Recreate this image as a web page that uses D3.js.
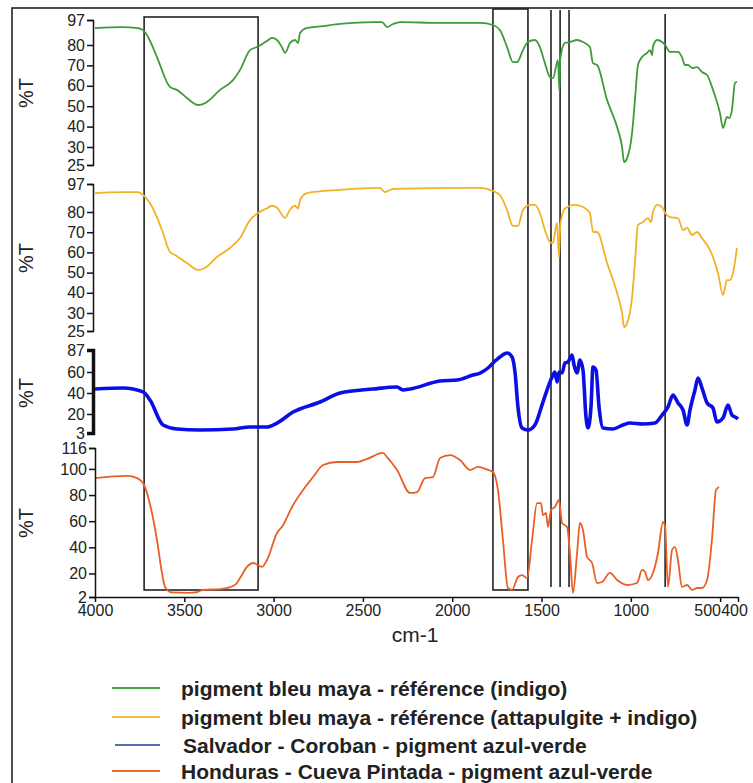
<!DOCTYPE html>
<html>
<head>
<meta charset="utf-8">
<script src="https://cdn.jsdelivr.net/npm/d3@7"></script>
<style>
body{margin:0;background:#fff;}
svg text{font-family:"Liberation Sans",Arial,sans-serif;fill:#222;}
</style>
</head>
<body>
<div id="chart"></div>
<script>
// spectra: [wavenumber cm-1, %T]
let greenData=[[4000,91.5],[3850,92.2],[3760,91.5],[3731,90.1],[3700,84.8],[3653,74.1],[3580,59.4],[3541,58],[3485,54],[3423,50.6],[3373,52.1],[3300,58],[3227,62.8],[3188,67.8],[3132,77.5],[3093,79],[3040,82.5],[3009,84.8],[2981,83.4],[2950,78.3],[2936,76.1],[2908,81.4],[2880,83.4],[2863,81.4],[2852,88.2],[2813,91.6],[2723,92.9],[2628,94.3],[2444,95.6],[2393,95.6],[2365,92.2],[2331,94.3],[2292,95.6],[2068,95],[1884,95],[1844,95],[1772,93.6],[1733,90.2],[1693,79],[1660,71.6],[1637,71.6],[1604,77.5],[1576,82],[1537,83.4],[1509,79],[1481,71.1],[1453,64.3],[1436,63.8],[1408,72.6],[1400,57.5],[1395,73.3],[1369,81.4],[1341,82],[1301,83.4],[1268,82],[1229,79],[1212,71.1],[1189,70.2],[1133,53],[1077,39.8],[1049,30],[1038,25.8],[1021,26.9],[993,36.9],[977,53],[960,70.2],[937,74.1],[909,76.1],[893,77.5],[881,75.1],[876,79.4],[853,83.4],[825,82],[808,80],[781,76.6],[736,76.6],[714,74.1],[697,70.2],[680,70.2],[657,68.7],[629,69.2],[602,66.8],[573,65.3],[540,58],[501,46.7],[484,39.3],[462,44.7],[450,44.2],[434,48.1],[417,61.4],[406,61.9]];

let orangeData=[[4000,91.5],[3850,92.1],[3760,92.1],[3731,90.3],[3680,83],[3625,71.1],[3580,60.2],[3552,58.7],[3485,54.8],[3423,51.3],[3384,52.3],[3317,57.7],[3244,62.2],[3188,67.1],[3132,76],[3093,79.2],[3040,82.1],[3009,83.8],[2981,82.6],[2936,77.1],[2908,81.5],[2880,83.8],[2863,82.1],[2852,87.3],[2813,91.5],[2628,93.4],[2405,94.6],[2377,92.1],[2331,94],[1884,94.6],[1844,94.6],[1772,92.8],[1733,90.3],[1693,81.2],[1660,73.1],[1632,73.1],[1604,81.2],[1565,84.3],[1537,84.3],[1509,79.5],[1481,71.1],[1453,65.1],[1436,64.7],[1413,74.6],[1402,57.7],[1395,73.6],[1369,82.1],[1313,84.3],[1268,83],[1229,79.5],[1212,70.1],[1189,70.1],[1133,54.8],[1077,39.9],[1049,30],[1038,26.1],[1021,27.2],[993,37.9],[977,54.8],[960,73.6],[932,75],[904,77],[887,75],[876,80],[853,84.3],[825,83],[808,79.5],[781,77.5],[736,77],[708,71.1],[685,72.1],[657,68.6],[629,70.1],[602,67.1],[557,61.2],[512,49.8],[484,38.9],[462,46.3],[445,46.3],[428,49.8],[406,62.2]];

let blueData=[[4000,43.8],[3843,44.8],[3731,41],[3692,33.3],[3619,10.2],[3541,6.6],[3412,5.7],[3227,6.6],[3132,8.4],[3087,8.4],[3037,8.4],[2981,11.9],[2891,21.9],[2740,31.4],[2628,40],[2444,43.8],[2309,45.7],[2276,42.9],[2236,43.8],[2068,51.4],[1973,52.4],[1884,57.1],[1844,59],[1800,64.9],[1772,71],[1733,78.4],[1693,83.3],[1665,78.4],[1648,59],[1632,26.7],[1609,7.5],[1576,5.7],[1537,10.2],[1492,31.4],[1441,55.2],[1425,60],[1413,50.5],[1402,60],[1385,59],[1369,71],[1352,72.3],[1329,80.9],[1318,68.6],[1301,59],[1285,74.7],[1268,62.5],[1251,17.3],[1240,7.5],[1223,26.7],[1212,66.1],[1195,62.5],[1178,26.7],[1156,7.5],[1100,6.6],[1044,10.2],[1005,11.9],[932,11],[865,11.9],[825,19.1],[792,26.7],[764,38.1],[736,30.5],[708,23.8],[685,10.2],[669,23.8],[641,42.9],[624,54.3],[602,44.8],[573,30.5],[540,25.7],[518,12.8],[484,16.4],[456,28.6],[434,19.1],[406,16.4],[400,15.5]];

let redData=[[4000,93],[3821,94.6],[3765,93],[3731,89.2],[3681,66.3],[3653,45.6],[3625,20.4],[3608,9.7],[3569,5.5],[3480,5.2],[3429,5.8],[3395,7.5],[3300,8],[3244,9.5],[3210,12],[3188,16.5],[3149,25],[3115,28],[3065,25],[3037,30.3],[2981,51],[2947,57],[2897,70.9],[2835,83.9],[2779,93.8],[2723,103],[2645,105.3],[2533,105.3],[2477,107.6],[2388,112.2],[2365,109.1],[2309,99.2],[2236,81.6],[2197,82.3],[2152,93],[2108,93.8],[2068,108.3],[2012,110.6],[1956,106.8],[1900,99.2],[1856,101.5],[1800,99.2],[1772,97.6],[1744,83.9],[1716,45.6],[1688,8.9],[1665,7.4],[1632,17.3],[1609,18.8],[1581,16.5],[1553,45.6],[1525,73.9],[1503,73.9],[1492,64.7],[1475,66.3],[1464,55.6],[1447,68.6],[1425,70.9],[1402,76.2],[1385,58.6],[1357,55.6],[1341,35.7],[1324,5.1],[1301,35.7],[1285,58.6],[1268,53.3],[1245,32.6],[1217,28],[1189,12.7],[1161,13.5],[1117,20.4],[1077,15],[1021,11.2],[965,12.7],[937,22.7],[920,21.1],[904,15],[876,20.4],[848,35.7],[820,59.4],[808,55.6],[792,9.7],[769,38],[753,40.3],[736,30.3],[714,9.7],[685,11.2],[657,7.4],[629,8.9],[602,8.9],[573,15],[546,45.6],[523,83.9],[506,86.2]];

let xTicks=[4000,3500,3000,2500,2000,1500,1000,500,400];
let ticks1=[97,80,70,60,50,40,30,25];
let ticks2=[97,80,70,60,50,40,30,25];
let ticks3=[87,60,40,20,3];
let ticks4=[116,100,80,60,40,20,2];

// highlighted regions and marker lines (cm-1)
let boxes=[[3725,3087],[1772,1576]];
let markLines=[1447,1396,1346,808];

let legendNames=["pigment bleu maya - référence (indigo)","pigment bleu maya - référence (attapulgite + indigo)","Salvador - Coroban - pigment azul-verde","Honduras - Cueva Pintada - pigment azul-verde"];
let legendColors=["#4ea64a","#f7bd45","#4a72b0","#ec6a2e"];

let width=753, height=783;

let svg=d3.select("#chart").append("svg").attr("width",width).attr("height",height);

// outer frame
svg.append("rect").attr("x",12).attr("y",8).attr("width",800).attr("height",850)
  .attr("fill","none").attr("stroke","#222").attr("stroke-width",1.6);

let x=d3.scaleLinear().domain([4000,400]).range([95,738]);

// the original y axes are not evenly spaced, so use polylinear scales
let panels=[
  {data:greenData, domain:[25,30,80,97], range:[165,147,45,20], ticks:ticks1, color:"#3f9a3c", w:1.8, ax:93, lab:93},
  {data:orangeData, domain:[25,30,80,97], range:[331,313,212,184], ticks:ticks2, color:"#f3b126", w:1.8, ax:93, lab:258},
  {data:blueData, domain:[3,20,60,87], range:[433,414,372,350], ticks:ticks3, color:"#0a10e4", w:3.6, ax:93, lab:393},
  {data:redData, domain:[2,116], range:[597,448], ticks:ticks4, color:"#e95f26", w:1.8, ax:95, lab:523}
];

// boxes and lines behind curves
let gAnn=svg.append("g").attr("fill","none").attr("stroke","#222").attr("stroke-width",1.6);
gAnn.append("rect").attr("x",x(boxes[0][0])).attr("y",17)
  .attr("width",x(boxes[0][1])-x(boxes[0][0])).attr("height",590-17);
gAnn.append("rect").attr("x",x(boxes[1][0])).attr("y",9)
  .attr("width",x(boxes[1][1])-x(boxes[1][0])).attr("height",590-9);
gAnn.selectAll("line").data(markLines).enter().append("line")
  .attr("x1",d=>x(d)).attr("x2",d=>x(d))
  .attr("y1",(d,i)=>i<3?10:14).attr("y2",587);

panels.forEach(function(p,i){
  let y=d3.scaleLinear().domain(p.domain).range(p.range);
  let line=d3.line().x(d=>x(d[0])).y(d=>y(d[1])).curve(d3.curveMonotoneX);
  svg.append("path").datum(p.data)
    .attr("d",line).attr("fill","none").attr("stroke",p.color)
    .attr("stroke-width",p.w).attr("stroke-linejoin","round");

  let axis=d3.axisLeft(y).tickValues(p.ticks).tickSize(6).tickPadding(2).tickFormat(d3.format("d"));
  let g=svg.append("g").attr("transform","translate("+p.ax+",0)").call(axis);
  g.selectAll("text").style("font-size","16px").attr("fill","#222");
  g.selectAll("line,path").attr("stroke","#111").attr("stroke-width",1.5);
  if(i===2){ g.select(".domain").attr("stroke-width",3.5); }

  svg.append("text").text("%T")
    .attr("transform","translate(26,"+p.lab+") rotate(-90)")
    .attr("text-anchor","middle").attr("dominant-baseline","central")
    .style("font-size","20px");
});

let xAxis=d3.axisBottom(x).tickValues(xTicks).tickSize(5).tickPadding(3).tickSizeOuter(0).tickFormat(d3.format("d"));
let gx=svg.append("g").attr("transform","translate(0,597)").call(xAxis);
gx.selectAll("text").style("font-size","16px").attr("fill","#222")
  .attr("dx",d=>d===500?-13:(d===400?-4:0));
gx.selectAll("line,path").attr("stroke","#111").attr("stroke-width",1.5);

svg.append("text").text("cm-1").attr("x",415).attr("y",642)
  .attr("text-anchor","middle").style("font-size","21px");

// legend
let legY=[688,717,745,771];
let leg=svg.append("g").selectAll("g").data(legendNames).enter().append("g")
  .attr("transform",(d,i)=>"translate(0,"+legY[i]+")");
leg.append("line").attr("x1",(d,i)=>i===2?115:112).attr("x2",160).attr("y1",0).attr("y2",0)
  .attr("stroke",(d,i)=>legendColors[i]).attr("stroke-width",2);
leg.append("text").text(d=>d).attr("x",(d,i)=>i===2?183:181).attr("y",0)
  .attr("dominant-baseline","central").style("font-size","21px").style("font-weight","bold");
</script>
</body>
</html>
